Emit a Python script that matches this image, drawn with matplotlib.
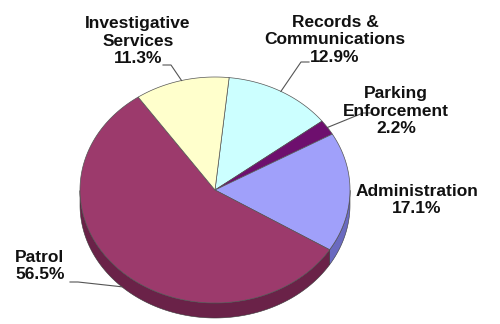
import numpy as np
import matplotlib
matplotlib.use("Agg")
from matplotlib import pyplot as plt

# slices, clockwise starting from the top
names = ["Records &\nCommunications", "Parking\nEnforcement", "Administration", "Patrol", "Investigative\nServices"]
shares = [12.9, 2.2, 17.1, 56.5, 11.3]
top_colors = ["#CCFFFF", "#6E0F6E", "#A0A0FA", "#9C3A6C", "#FFFFCC"]
side_colors = ["#8FB5B5", "#430843", "#6A6AC0", "#6A2248", "#B5B58F"]

# label placement (pixels) and alignment
label_pos = [(335, 40), (396, 111), (417, 200), (15, 266), (138, 41)]
label_ha = ["center", "center", "center", "left", "center"]
leader = [True, True, False, True, True]
leader_start = [(309, 62), (371, 113), None, (70, 282), (163, 65)]

cx, cy, rx, ry, depth = 215, 190, 135, 113, 15
start = 84.0

plt.rcParams['font.family'] = ['Liberation Sans', 'DejaVu Sans']
fig = plt.figure(figsize=(5, 3.24), dpi=100)
ax = fig.add_axes([0, 0, 1, 1])
ax.set_xlim(0, 500)
ax.set_ylim(324, 0)
ax.axis("off")

def pt(a, dy=0):
    r = np.radians(a)
    return cx + rx * np.cos(r), cy - ry * np.sin(r) + dy

angles = []
a0 = start
for s in shares:
    a1 = a0 - s * 3.6
    angles.append((a1, a0))
    a0 = a1

# side walls
for (a1, a0), col in zip(angles, side_colors):
    t = np.linspace(a1, a0, 400)
    vis = np.sin(np.radians(t)) <= 0
    if not vis.any():
        continue
    t = t[vis]
    xs, ys = pt(t)
    px = np.concatenate([xs, xs[::-1]])
    py = np.concatenate([ys, (ys + depth)[::-1]])
    ax.fill(px, py, color=col, ec="#3a3a3a", lw=0.4, zorder=1)

# top faces
for (a1, a0), col in zip(angles, top_colors):
    t = np.linspace(a0, a1, 300)
    xs, ys = pt(t)
    px = np.concatenate([[cx], xs])
    py = np.concatenate([[cy], ys])
    ax.fill(px, py, color=col, ec="#555555", lw=0.5, zorder=2)

# labels and leader lines
for i, (nm, s) in enumerate(zip(names, shares)):
    x, y = label_pos[i]
    ax.text(x, y, f"{nm}\n{s:.1f}%", ha=label_ha[i], va="center", fontsize=12.5,
            fontweight="bold", color="#111111", linespacing=1.2, zorder=4)
    if leader[i]:
        a1, a0 = angles[i]
        mid = (a1 + a0) / 2
        ex, ey = pt(mid, depth if np.sin(np.radians(mid)) < 0 else 0)
        sx, sy = leader_start[i]
        kx = sx + (8 if ex > sx else -8)
        ax.plot([sx, kx, ex], [sy, sy, ey], color="#555555", lw=0.8, zorder=3)

fig.savefig("out.png", dpi=100)
